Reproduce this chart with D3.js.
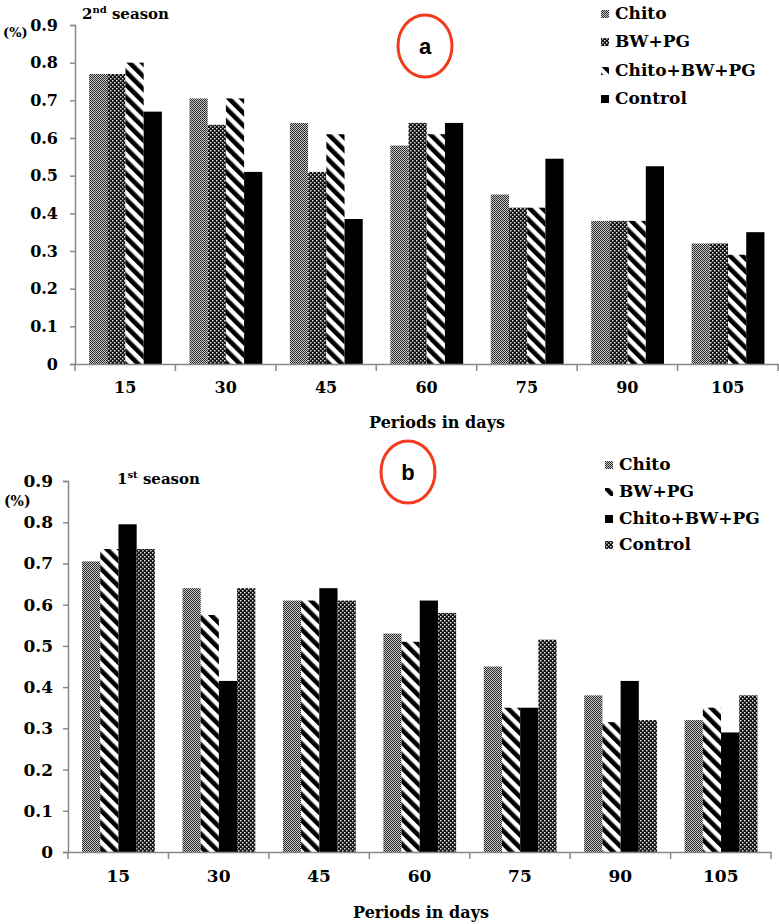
<!DOCTYPE html>
<html><head><meta charset="utf-8">
<script src="https://cdn.jsdelivr.net/npm/d3@7/dist/d3.min.js"></script>
<style>
body{margin:0;background:#fff}svg{display:block}
svg text{font-family:"DejaVu Serif",serif;font-weight:bold}
svg text.sans{font-family:"Liberation Sans",Arial,sans-serif}
</style>
</head><body>
<svg id="c" width="779" height="924"></svg>
<script>
const periods = ["15","30","45","60","75","90","105"];
const yTicks = [0,0.1,0.2,0.3,0.4,0.5,0.6,0.7,0.8,0.9];

// Panel a (2nd season)
const seriesA = ["Chito","BW+PG","Chito+BW+PG","Control"];
const a_chito     = [0.77,0.705,0.64,0.58,0.45,0.38,0.32];
const a_bwpg      = [0.77,0.635,0.51,0.64,0.415,0.38,0.32];
const a_chitobwpg = [0.80,0.705,0.61,0.61,0.415,0.38,0.29];
const a_control   = [0.67,0.51,0.385,0.64,0.545,0.525,0.35];

// Panel b (1st season)
const seriesB = ["Chito","BW+PG","Chito+BW+PG","Control"];
const b_chito     = [0.705,0.64,0.61,0.53,0.45,0.38,0.32];
const b_bwpg      = [0.735,0.575,0.61,0.51,0.35,0.315,0.35];
const b_chitobwpg = [0.795,0.415,0.64,0.61,0.35,0.415,0.29];
const b_control   = [0.735,0.64,0.61,0.58,0.515,0.32,0.38];

const svg = d3.select("#c");
const defs = svg.append("defs");

let p = defs.append("pattern").attr("id","fine").attr("patternUnits","userSpaceOnUse").attr("width",2).attr("height",2);
p.append("rect").attr("width",2).attr("height",2).attr("fill","#c8c8c8");
p.append("rect").attr("width",1).attr("height",1).attr("fill","#222");
p.append("rect").attr("x",1).attr("y",1).attr("width",1).attr("height",1).attr("fill","#333");
p = defs.append("pattern").attr("id","coarse").attr("patternUnits","userSpaceOnUse").attr("width",4).attr("height",4);
p.append("rect").attr("width",4).attr("height",4).attr("fill","#111");
p.append("rect").attr("x",0).attr("y",0).attr("width",1.5).attr("height",1.5).attr("fill","#ddd");
p.append("rect").attr("x",2).attr("y",2).attr("width",1.5).attr("height",1.5).attr("fill","#ddd");
p = defs.append("pattern").attr("id","stripe").attr("patternUnits","userSpaceOnUse").attr("width",9).attr("height",9).attr("patternTransform","rotate(-45)");
p.append("rect").attr("width",9).attr("height",9).attr("fill","#fff");
p.append("rect").attr("width",4.6).attr("height",9).attr("fill","#000");

function panel(cfg){
  const g = svg.append("g");
  const x0 = d3.scaleBand().domain(periods).range([cfg.x0, cfg.x1]).padding(0);
  const bw = x0.bandwidth();
  const x1 = d3.scaleBand().domain(cfg.series).range([bw*0.14, bw*0.865]).padding(0);
  const y = d3.scaleLinear().domain([0,0.9]).range([cfg.yb, cfg.yt]);

  cfg.series.forEach((s,si)=>{
    g.selectAll(null).data(cfg.values[si]).enter().append("rect")
      .attr("x",(d,i)=>x0(periods[i])+x1(s))
      .attr("width",x1.bandwidth())
      .attr("y",d=>y(d))
      .attr("height",d=>y(0)-y(d))
      .attr("fill",cfg.fills[si]);
  });

  const ya = d3.axisLeft(y).tickValues(yTicks).tickFormat(d=>d===0?"0":d3.format(".1f")(d)).tickSize(5).tickPadding(cfg.tp);
  const yg = g.append("g").attr("transform",`translate(${cfg.x0},0)`).call(ya);
  yg.attr("font-family",null).attr("font-size",null);
  yg.select(".domain").attr("stroke","#888").attr("stroke-width",1.5);
  yg.selectAll(".tick line").attr("stroke","#888").attr("stroke-width",1.5);
  yg.selectAll("text").style("font-size",cfg.fs+"px").attr("fill","#000");

  const xa = d3.axisBottom(x0).tickSize(0).tickPadding(cfg.xpad);
  const xg = g.append("g").attr("transform",`translate(0,${cfg.yb})`).call(xa);
  xg.attr("font-family",null).attr("font-size",null);
  xg.select(".domain").attr("stroke","#888").attr("stroke-width",1.5);
  xg.selectAll("text").style("font-size",cfg.fs+"px").attr("fill","#000");
  const bounds = periods.map(d=>x0(d)).concat([x0(periods[periods.length-1])+bw]);
  xg.selectAll(".bt").data(bounds).enter().append("line")
    .attr("x1",d=>d).attr("x2",d=>d).attr("y1",0).attr("y2",7)
    .attr("stroke","#888").attr("stroke-width",1.5);

  g.append("text").attr("x",cfg.titleX).attr("y",cfg.titleY).attr("text-anchor","middle")
    .style("font-size","16px").text("Periods in days");

  g.append("text").attr("x",cfg.pctX).attr("y",cfg.pctY)
    .style("font-size",cfg.pctFs+"px").attr("dominant-baseline","middle").text("(%)");

  const st = g.append("text").attr("x",cfg.seasonX).attr("y",cfg.seasonY).style("font-size","15px");
  st.append("tspan").text(cfg.seasonNum);
  st.append("tspan").style("font-size","10px").attr("dy",-6).text(cfg.seasonSup);
  st.append("tspan").attr("dy",6).text(cfg.seasonGap + "season");

  cfg.series.forEach((s,si)=>{
    const ly = cfg.legY[si];
    g.append("rect").attr("x",cfg.legX).attr("y",ly-4).attr("width",8).attr("height",8).attr("fill",cfg.fills[si]);
    g.append("text").attr("x",cfg.legX+14).attr("y",ly).attr("dominant-baseline","middle")
      .style("font-size","17px").text(s);
  });

  g.append("ellipse").attr("cx",cfg.cx).attr("cy",cfg.cy).attr("rx",27).attr("ry",31)
    .attr("fill","none").attr("stroke","#f23a1c").attr("stroke-width",3);
  g.append("text").attr("class","sans").attr("x",cfg.cx).attr("y",cfg.cy+2).attr("text-anchor","middle").attr("dominant-baseline","middle")
    .style("font-size","22px").text(cfg.letter);
}

panel({
  series: seriesA, values:[a_chito,a_bwpg,a_chitobwpg,a_control],
  fills:["url(#fine)","url(#coarse)","url(#stripe)","#000"],
  x0:75, x1:778, yb:364, yt:25, fs:16, tp:12, xpad:18,
  titleX:437, titleY:428, pctX:3, pctY:33, pctFs:13,
  seasonX:82, seasonY:19, seasonNum:"2", seasonSup:"nd", seasonGap:" ",
  legX:601, legY:[14,42,71,99], cx:425, cy:46, letter:"a"
});
panel({
  series: seriesB, values:[b_chito,b_bwpg,b_chitobwpg,b_control],
  fills:["url(#fine)","url(#stripe)","#000","url(#coarse)"],
  x0:68, x1:771, yb:852, yt:481, fs:17, tp:10, xpad:18,
  titleX:421, titleY:918, pctX:4, pctY:502, pctFs:14,
  seasonX:117, seasonY:484, seasonNum:"1", seasonSup:"st", seasonGap:"  ",
  legX:605, legY:[465,492,519,545], cx:408, cy:472, letter:"b"
});
</script>
</body></html>
